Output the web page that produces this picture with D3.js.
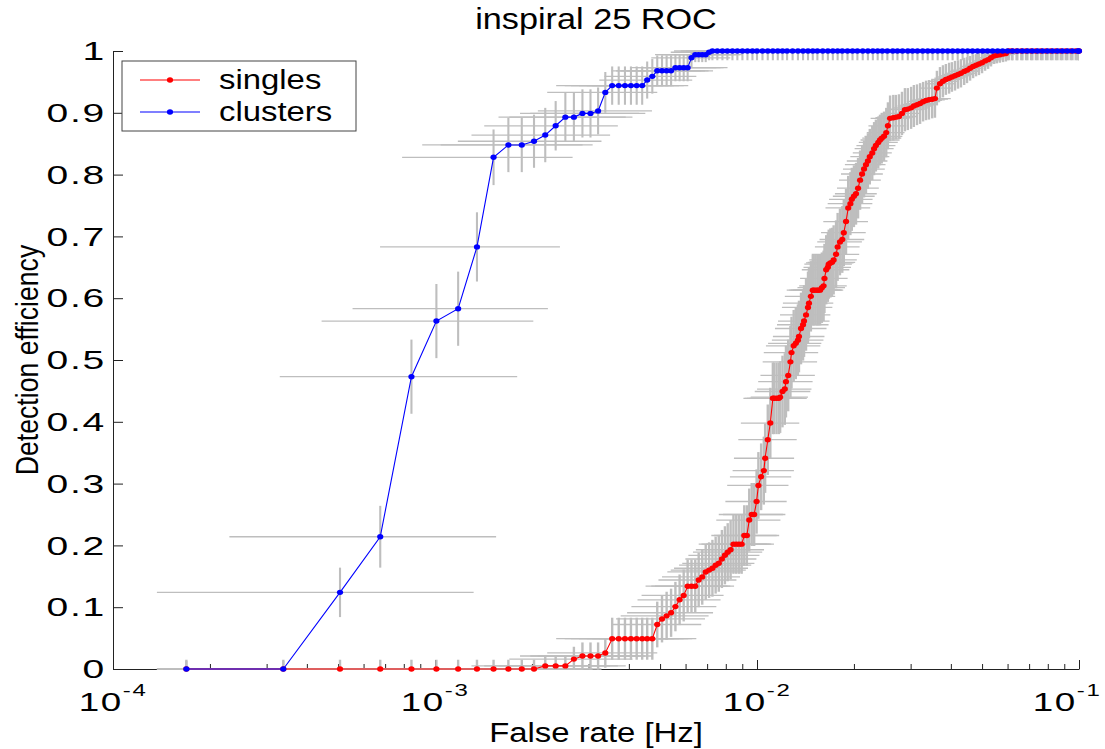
<!DOCTYPE html>
<html>
<head>
<meta charset="utf-8">
<script src="https://cdn.jsdelivr.net/npm/d3@7"></script>
<style>
  body { margin: 0; background: #fff; }
  text { font-family: "Liberation Sans", Arial, sans-serif; fill: #000; }
</style>
</head>
<body>
<div id="chart"></div>
<script>
// ---- data ----
// singles: false rate [Hz], efficiency, rate error factors (lower/upper), efficiency error (half width)
const singlesRate = [
  1.69e-4, 3.38e-4, 5.07e-4, 6.76e-4, 8.45e-4, 1.01e-3, 1.18e-3, 1.35e-3, 1.52e-3, 1.69e-3, 1.86e-3, 2.03e-3,
  2.20e-3, 2.37e-3, 2.54e-3, 2.70e-3, 2.87e-3, 3.04e-3, 3.21e-3, 3.38e-3,
  3.55e-3, 3.72e-3, 3.89e-3, 4.06e-3, 4.23e-3, 4.40e-3, 4.56e-3, 4.73e-3,
  4.90e-3, 5.07e-3, 5.24e-3, 5.41e-3, 5.58e-3, 5.75e-3, 5.92e-3, 6.09e-3,
  6.26e-3, 6.43e-3, 6.59e-3, 6.76e-3, 6.93e-3, 7.10e-3, 7.27e-3, 7.44e-3,
  7.61e-3, 7.78e-3, 7.95e-3, 8.11e-3, 8.28e-3, 8.45e-3, 8.62e-3, 8.79e-3,
  8.96e-3, 9.13e-3, 9.30e-3, 9.46e-3, 9.63e-3, 9.80e-3, 9.97e-3, 1.01e-2,
  1.03e-2, 1.05e-2, 1.06e-2, 1.08e-2, 1.10e-2, 1.12e-2, 1.13e-2, 1.15e-2,
  1.17e-2, 1.18e-2, 1.20e-2, 1.22e-2, 1.23e-2, 1.25e-2, 1.27e-2, 1.28e-2,
  1.30e-2, 1.32e-2, 1.34e-2, 1.35e-2, 1.37e-2, 1.39e-2, 1.40e-2, 1.42e-2,
  1.44e-2, 1.45e-2, 1.47e-2, 1.49e-2, 1.50e-2, 1.52e-2, 1.54e-2, 1.55e-2,
  1.57e-2, 1.59e-2, 1.61e-2, 1.62e-2, 1.64e-2, 1.66e-2, 1.67e-2, 1.69e-2,
  1.71e-2, 1.73e-2, 1.76e-2, 1.78e-2, 1.81e-2, 1.84e-2, 1.86e-2, 1.89e-2,
  1.92e-2, 1.95e-2, 1.97e-2, 2.00e-2, 2.03e-2, 2.06e-2, 2.09e-2, 2.12e-2,
  2.15e-2, 2.18e-2, 2.21e-2, 2.24e-2, 2.28e-2, 2.31e-2, 2.34e-2, 2.38e-2,
  2.41e-2, 2.44e-2, 2.48e-2, 2.52e-2, 2.55e-2, 2.59e-2, 2.65e-2, 2.70e-2,
  2.76e-2, 2.82e-2, 2.88e-2, 2.94e-2, 3.01e-2, 3.07e-2, 3.14e-2, 3.21e-2,
  3.28e-2, 3.35e-2, 3.42e-2, 3.50e-2, 3.57e-2, 3.62e-2, 3.70e-2, 3.78e-2,
  3.86e-2, 3.95e-2, 4.03e-2, 4.12e-2, 4.21e-2, 4.30e-2, 4.40e-2, 4.49e-2,
  4.59e-2, 4.69e-2, 4.79e-2, 4.89e-2, 5.00e-2, 5.11e-2, 5.22e-2, 5.33e-2,
  5.45e-2, 5.56e-2, 5.68e-2, 5.81e-2, 5.93e-2,
  6.05e-2, 6.19e-2, 6.40e-2, 6.62e-2, 6.85e-2, 7.10e-2, 7.35e-2, 7.62e-2,
  7.90e-2, 8.18e-2, 8.48e-2, 8.78e-2, 9.10e-2, 9.43e-2, 9.77e-2, 1.00e-1
]
const singlesEff = [
  0, 0, 0, 0, 0, 0, 0, 0, 0, 0, 0, 0,
  .005, .005, .005, .016, .021, .021, .021, .026,
  .049, .049, .049, .049, .049, .049, .049, .049,
  .072, .081, .086, .091, .101, .112, .119, .134,
  .134, .134, .144, .149, .157, .160, .163, .168,
  .171, .178, .184, .189, .193, .202, .202, .202,
  .202, .216, .216, .241, .250, .250, .271, .297,
  .311, .321, .341, .371, .398, .438, .438, .438,
  .438, .440, .449, .453, .465, .475, .497, .512,
  .523, .527, .532, .538, .551, .557, .563, .573,
  .585, .592, .603, .613, .613, .613, .613, .613,
  .613, .617, .620, .632, .646, .650, .655, .657,
  .658, .662, .671, .683, .691, .695, .706, .724,
  .746, .753, .760, .765, .769, .778, .791, .801,
  .809, .816, .822, .829, .835, .842, .847, .852,
  .856, .859, .862, .868, .879, .891, .892, .893,
  .894, .899, .905, .906, .908, .911, .913, .915,
  .918, .920, .921, .922, .923, .940, .947, .951,
  .954, .956, .958, .960, .962, .964, .967, .969,
  .972, .975, .977, .979, .981, .984, .986, .989,
  .992, .993, .994, .995, .996,
  1, 1, 1, 1, 1, 1, 1, 1,
  1, 1, 1, 1, 1, 1, 1, 1
]
const singlesRateLo = [
  .81, .41, .27, .34, .39, .44, .47, .50, .52, .54, .56, .58,
  .59, .60, .62, .63, .64, .65, .65, .66,
  .67, .68, .68, .69, .70, .70, .71, .71,
  .72, .72, .72, .73, .73, .74, .74, .74,
  .75, .75, .75, .75, .76, .76, .76, .77,
  .77, .77, .77, .78, .78, .78, .78, .79,
  .79, .79, .79, .79, .79, .80, .80, .80,
  .80, .80, .80, .81, .81, .81, .81, .81,
  .81, .81, .82, .82, .82, .82, .82, .82,
  .82, .82, .83, .83, .83, .83, .83, .83,
  .83, .83, .83, .83, .84, .84, .84, .84,
  .84, .84, .84, .84, .84, .84, .84, .84,
  .84, .84, .84, .85, .85, .85, .85, .85,
  .85, .85, .85, .86, .86, .86, .86, .86,
  .86, .86, .86, .87, .87, .87, .87, .87,
  .87, .87, .87, .87, .87, .87, .88, .88,
  .88, .88, .88, .88, .88, .89, .89, .89,
  .89, .89, .89, .89, .89, .89, .90, .90,
  .90, .90, .90, .90, .90, .90, .90, .90,
  .91, .91, .91, .91, .91, .91, .91, .91,
  .91, .91, .91, .92, .92,
  .92, .92, .92, .92, .92, .92, .92, .93,
  .93, .93, .93, .93, .93, .93, .93, .93
]
const singlesRateHi = [
  4.74, 3.15, 2.60, 2.29, 2.13, 2.00, 1.90, 1.81, 1.76, 1.70, 1.66, 1.62,
  1.59, 1.56, 1.54, 1.52, 1.50, 1.48, 1.47, 1.45,
  1.44, 1.43, 1.42, 1.41, 1.40, 1.39, 1.38, 1.37,
  1.37, 1.36, 1.35, 1.35, 1.34, 1.34, 1.33, 1.33,
  1.32, 1.32, 1.31, 1.31, 1.30, 1.30, 1.29, 1.29,
  1.29, 1.28, 1.28, 1.28, 1.27, 1.27, 1.27, 1.26,
  1.26, 1.26, 1.26, 1.25, 1.25, 1.25, 1.24, 1.24,
  1.24, 1.24, 1.23, 1.23, 1.23, 1.23, 1.22, 1.22,
  1.22, 1.22, 1.22, 1.21, 1.21, 1.21, 1.21, 1.21,
  1.21, 1.20, 1.20, 1.20, 1.20, 1.20, 1.20, 1.19,
  1.19, 1.19, 1.19, 1.19, 1.19, 1.19, 1.19, 1.18,
  1.18, 1.18, 1.18, 1.18, 1.18, 1.18, 1.18, 1.18,
  1.18, 1.18, 1.18, 1.17, 1.17, 1.17, 1.17, 1.17,
  1.17, 1.17, 1.16, 1.16, 1.16, 1.16, 1.16, 1.16,
  1.16, 1.15, 1.15, 1.15, 1.15, 1.15, 1.15, 1.15,
  1.15, 1.15, 1.14, 1.14, 1.14, 1.14, 1.14, 1.14,
  1.14, 1.14, 1.13, 1.13, 1.13, 1.13, 1.13, 1.13,
  1.13, 1.12, 1.12, 1.12, 1.12, 1.12, 1.11, 1.11,
  1.11, 1.11, 1.11, 1.11, 1.11, 1.11, 1.11, 1.10,
  1.10, 1.10, 1.10, 1.10, 1.10, 1.10, 1.10, 1.10,
  1.10, 1.09, 1.09, 1.09, 1.09,
  1.09, 1.09, 1.09, 1.09, 1.08, 1.08, 1.08, 1.08,
  1.08, 1.08, 1.08, 1.07, 1.07, 1.07, 1.07, 1.07
]
const singlesEffErr = [
  .015, .015, .015, .015, .015, .015, .015, .015, .015, .015, .015, .015,
  .015, .015, .015, .020, .022, .022, .022, .024,
  .034, .034, .034, .034, .034, .034, .034, .034,
  .037, .038, .039, .039, .040, .041, .042, .043,
  .043, .043, .044, .045, .045, .045, .046, .046,
  .046, .047, .047, .047, .048, .048, .048, .048,
  .048, .049, .049, .051, .051, .051, .052, .054,
  .054, .055, .056, .057, .057, .058, .058, .058,
  .058, .058, .058, .058, .058, .058, .058, .058,
  .058, .058, .058, .058, .058, .058, .058, .058,
  .058, .057, .057, .057, .057, .057, .057, .057,
  .057, .057, .057, .056, .056, .056, .056, .056,
  .056, .056, .055, .055, .054, .054, .054, .053,
  .052, .051, .051, .050, .050, .049, .048, .047,
  .046, .046, .045, .045, .044, .043, .042, .042,
  .041, .041, .040, .040, .038, .037, .037, .036,
  .036, .035, .035, .034, .034, .034, .033, .033,
  .032, .032, .032, .031, .031, .028, .027, .026,
  .025, .025, .024, .024, .023, .023, .022, .021,
  .020, .019, .018, .018, .017, .016, .015, .014,
  .013, .013, .013, .013, .013,
  .015, .015, .015, .015, .015, .015, .015, .015,
  .015, .015, .015, .015, .015, .015, .015, .015
]

// clusters
const clustersRate = [
  1.69e-4, 3.38e-4, 5.07e-4, 6.76e-4, 8.45e-4, 1.01e-3, 1.18e-3,
  1.35e-3, 1.52e-3, 1.69e-3, 1.86e-3, 2.03e-3, 2.20e-3, 2.37e-3,
  2.54e-3, 2.70e-3, 2.87e-3, 3.04e-3, 3.21e-3, 3.38e-3, 3.55e-3,
  3.72e-3, 3.89e-3, 4.06e-3, 4.23e-3, 4.40e-3, 4.56e-3, 4.73e-3,
  4.90e-3, 5.07e-3, 5.24e-3, 5.41e-3, 5.58e-3, 5.75e-3, 5.92e-3,
  6.09e-3, 6.26e-3, 6.43e-3, 6.59e-3, 6.76e-3, 6.93e-3, 7.10e-3,
  7.27e-3, 7.53e-3, 7.81e-3, 8.09e-3, 8.39e-3, 8.69e-3, 9.01e-3, 9.34e-3, 9.68e-3, 1.00e-2,
  1.04e-2, 1.08e-2, 1.12e-2, 1.16e-2, 1.20e-2, 1.24e-2, 1.29e-2, 1.34e-2, 1.39e-2, 1.44e-2,
  1.49e-2, 1.54e-2, 1.60e-2, 1.66e-2, 1.72e-2, 1.78e-2, 1.84e-2, 1.91e-2, 1.98e-2, 2.05e-2,
  2.13e-2, 2.21e-2, 2.29e-2, 2.37e-2, 2.45e-2, 2.54e-2, 2.64e-2, 2.73e-2, 2.83e-2, 2.94e-2,
  3.04e-2, 3.15e-2, 3.27e-2, 3.39e-2, 3.51e-2, 3.64e-2, 3.77e-2, 3.91e-2, 4.05e-2, 4.20e-2,
  4.35e-2, 4.51e-2, 4.67e-2, 4.84e-2, 5.02e-2, 5.20e-2, 5.39e-2, 5.59e-2, 5.79e-2, 6.00e-2,
  6.22e-2, 6.44e-2, 6.68e-2, 6.92e-2, 7.17e-2, 7.44e-2, 7.71e-2, 7.99e-2, 8.28e-2, 8.58e-2,
  8.89e-2, 9.21e-2, 9.55e-2, 9.90e-2, 1.00e-1
]
const clustersEff = [
  0, 0, .124, .214, .473, .563, .583,
  .683, .828, .848, .848, .854, .864, .879,
  .893, .893, .899, .899, .903, .933, .944,
  .944, .944, .944, .944, .944, .953, .959,
  .968, .968, .968, .968, .973, .973, .973,
  .973, .989, .994, .994, .994, .994, .998,
  1, 1, 1, 1, 1, 1, 1, 1, 1, 1,
  1, 1, 1, 1, 1, 1, 1, 1, 1, 1,
  1, 1, 1, 1, 1, 1, 1, 1, 1, 1,
  1, 1, 1, 1, 1, 1, 1, 1, 1, 1,
  1, 1, 1, 1, 1, 1, 1, 1, 1, 1,
  1, 1, 1, 1, 1, 1, 1, 1, 1, 1,
  1, 1, 1, 1, 1, 1, 1, 1, 1, 1,
  1, 1, 1, 1, 1
]
const clustersRateLo = [
  .81, .41, .27, .34, .39, .44, .47,
  .50, .52, .54, .56, .58, .59, .60,
  .62, .63, .64, .65, .65, .66, .67,
  .68, .68, .69, .70, .70, .71, .71,
  .72, .72, .72, .73, .73, .74, .74,
  .74, .75, .75, .75, .75, .76, .76,
  .76, .77, .77, .77, .78, .78, .78, .79, .79, .80,
  .80, .80, .81, .81, .81, .82, .82, .82, .83, .83,
  .83, .84, .84, .84, .85, .85, .85, .85, .86, .86,
  .86, .86, .87, .87, .87, .87, .87, .88, .88, .88,
  .88, .88, .89, .89, .89, .89, .90, .90, .90, .90,
  .90, .90, .90, .91, .91, .91, .91, .91, .91, .92,
  .92, .92, .92, .92, .92, .92, .93, .93, .93, .93,
  .93, .93, .93, .93, .93
]
const clustersRateHi = [
  4.74, 3.15, 2.60, 2.29, 2.13, 2.00, 1.90,
  1.81, 1.76, 1.70, 1.66, 1.62, 1.59, 1.56,
  1.54, 1.52, 1.50, 1.48, 1.47, 1.45, 1.44,
  1.43, 1.42, 1.41, 1.40, 1.39, 1.38, 1.37,
  1.37, 1.36, 1.35, 1.35, 1.34, 1.34, 1.33,
  1.33, 1.32, 1.32, 1.31, 1.31, 1.30, 1.30,
  1.29, 1.29, 1.28, 1.28, 1.28, 1.27, 1.27, 1.26, 1.25, 1.24,
  1.24, 1.24, 1.23, 1.22, 1.22, 1.22, 1.21, 1.21, 1.20, 1.20,
  1.19, 1.19, 1.18, 1.18, 1.18, 1.17, 1.17, 1.17, 1.16, 1.16,
  1.16, 1.15, 1.15, 1.15, 1.15, 1.14, 1.14, 1.14, 1.14, 1.13,
  1.13, 1.13, 1.13, 1.12, 1.12, 1.12, 1.12, 1.12, 1.11, 1.11,
  1.11, 1.11, 1.11, 1.10, 1.10, 1.10, 1.10, 1.10, 1.09, 1.09,
  1.09, 1.09, 1.09, 1.09, 1.08, 1.08, 1.08, 1.08, 1.08, 1.08,
  1.07, 1.07, 1.07, 1.07, 1.07
]
const clustersEffErr = [
  .013, .013, .040, .050, .060, .060, .060,
  .056, .045, .044, .044, .043, .044, .040,
  .040, .040, .039, .039, .038, .033, .031,
  .031, .031, .031, .031, .031, .030, .028,
  .025, .025, .025, .025, .022, .022, .022,
  .022, .015, .012, .012, .012, .012, .013,
  .015, .015, .015, .015, .015, .015, .015, .015, .015, .015,
  .015, .015, .015, .015, .015, .015, .015, .015, .015, .015,
  .015, .015, .015, .015, .015, .015, .015, .015, .015, .015,
  .015, .015, .015, .015, .015, .015, .015, .015, .015, .015,
  .015, .015, .015, .015, .015, .015, .015, .015, .015, .015,
  .015, .015, .015, .015, .015, .015, .015, .015, .015, .015,
  .015, .015, .015, .015, .015, .015, .015, .015, .015, .015,
  .015, .015, .015, .015, .015
]

const xMajorTicks = [1e-4, 1e-3, 1e-2, 1e-1]
const xTickExponents = ["-4", "-3", "-2", "-1"]
const xMinorTicks = [2e-4, 3e-4, 4e-4, 5e-4, 6e-4, 7e-4, 8e-4, 9e-4,
  2e-3, 3e-3, 4e-3, 5e-3, 6e-3, 7e-3, 8e-3, 9e-3,
  2e-2, 3e-2, 4e-2, 5e-2, 6e-2, 7e-2, 8e-2, 9e-2]
const yTicks = [0, 0.1, 0.2, 0.3, 0.4, 0.5, 0.6, 0.7, 0.8, 0.9, 1]
const yTickLabels = ["0", "0.1", "0.2", "0.3", "0.4", "0.5", "0.6", "0.7", "0.8", "0.9", "1"]

// ---- layout ----
const width = 1105
const height = 749
const margin = { top: 51, right: 26, bottom: 80, left: 113 }
const sx = 1.37, sy = 1.15 // the original figure's text is stretched wider than tall
const gray = "#bebebe"

const xScale = d3.scaleLog().domain([1e-4, 1e-1]).range([margin.left, width - margin.right])
const yScale = d3.scaleLinear().domain([0, 1]).range([height - margin.bottom, margin.top])

const svg = d3.select("#chart").append("svg")
  .attr("width", width)
  .attr("height", height)
  .style("display", "block")

svg.append("defs").append("clipPath").attr("id", "plotclip")
  .append("rect")
  .attr("x", margin.left)
  .attr("y", margin.top - 1)
  .attr("width", width - margin.right - margin.left)
  .attr("height", height - margin.bottom - margin.top + 2)

// axes (ticks point inward, no box)
const xAxis = d3.axisBottom(xScale).tickValues(xMajorTicks).tickSize(-9).tickSizeOuter(0).tickFormat("")
const xAxisMinor = d3.axisBottom(xScale).tickValues(xMinorTicks).tickSize(-5).tickSizeOuter(0).tickFormat("")
const yAxis = d3.axisLeft(yScale).tickValues(yTicks).tickSize(-10).tickSizeOuter(0).tickFormat("")

svg.append("g")
  .attr("class", "x-axis")
  .attr("transform", `translate(0,${height - margin.bottom})`)
  .call(xAxis)
svg.append("g")
  .attr("class", "x-axis-minor")
  .attr("transform", `translate(0,${height - margin.bottom})`)
  .call(xAxisMinor)
  .call(g => g.select(".domain").remove())
svg.append("g")
  .attr("class", "y-axis")
  .attr("transform", `translate(${margin.left},0)`)
  .call(yAxis)
svg.selectAll(".domain").attr("stroke", "#222")
svg.selectAll(".tick line").attr("stroke", "#222")

// series built from the arrays above
const series = [
  { name: "singles", color: "#ff0000", barWidth: 2.4, rate: singlesRate, eff: singlesEff, lo: singlesRateLo, hi: singlesRateHi, err: singlesEffErr },
  { name: "clusters", color: "#0000ff", barWidth: 2.1, rate: clustersRate, eff: clustersEff, lo: clustersRateLo, hi: clustersRateHi, err: clustersEffErr }
]
series.forEach(s => {
  s.points = s.rate.map((r, i) => ({ rate: r, eff: s.eff[i], lo: r * s.lo[i], hi: r * s.hi[i], err: s.err[i] }))
})

// gray error bars, clipped to the axes
const bars = svg.append("g").attr("clip-path", "url(#plotclip)")
series.forEach(s => {
  bars.append("g")
    .selectAll("line")
    .data(s.points)
    .join("line")
    .attr("x1", d => xScale(d.lo))
    .attr("x2", d => xScale(d.hi))
    .attr("y1", d => yScale(d.eff))
    .attr("y2", d => yScale(d.eff))
    .attr("stroke", gray)
    .attr("stroke-width", 1.3)
  bars.append("g")
    .selectAll("line")
    .data(s.points)
    .join("line")
    .attr("x1", d => xScale(d.rate))
    .attr("x2", d => xScale(d.rate))
    .attr("y1", d => yScale(d.eff - d.err))
    .attr("y2", d => yScale(d.eff + d.err))
    .attr("stroke", gray)
    .attr("stroke-width", s.barWidth)
})

// curves + dot markers
const line = d3.line().x(d => xScale(d.rate)).y(d => yScale(d.eff))
series.forEach(s => {
  svg.append("path")
    .datum(s.points)
    .attr("d", line)
    .attr("fill", "none")
    .attr("stroke", s.color)
    .attr("stroke-width", 1.1)
  svg.append("g")
    .selectAll("ellipse")
    .data(s.points)
    .join("ellipse")
    .attr("cx", d => xScale(d.rate))
    .attr("cy", d => yScale(d.eff))
    .attr("rx", 3.1)
    .attr("ry", 2.7)
    .attr("fill", s.color)
})

// tick labels (the original draws them with wide glyphs)
svg.append("g")
  .selectAll("text")
  .data(yTicks)
  .join("text")
  .attr("transform", d => `translate(${margin.left - 7},${yScale(d)}) scale(1.7,1.12)`)
  .attr("text-anchor", "end")
  .attr("dy", "0.36em")
  .style("font-size", "23px")
  .style("letter-spacing", "1px")
  .text((d, i) => yTickLabels[i])

const xLabels = svg.append("g")
  .selectAll("text")
  .data(xMajorTicks)
  .join("text")
  .attr("transform", (d, i) => `translate(${xScale(d) - (i === xMajorTicks.length - 1 ? 12 : 0)},${height - margin.bottom + 42}) scale(1.6,${sy})`)
  .attr("text-anchor", "middle")
  .style("font-size", "23px")
  .style("letter-spacing", "1px")
xLabels.append("tspan").text("10")
xLabels.append("tspan")
  .attr("dy", -13)
  .style("font-size", "15px")
  .text((d, i) => xTickExponents[i])

// title and axis labels
svg.append("text")
  .attr("transform", `translate(${(margin.left + width - margin.right) / 2},29) scale(${sx},${sy})`)
  .attr("text-anchor", "middle")
  .style("font-size", "25px")
  .text("inspiral 25 ROC")

svg.append("text")
  .attr("transform", `translate(${(margin.left + width - margin.right) / 2},742) scale(${sx},${sy})`)
  .attr("text-anchor", "middle")
  .style("font-size", "24px")
  .text("False rate [Hz]")

svg.append("text")
  .attr("transform", `translate(38,${(margin.top + height - margin.bottom) / 2}) rotate(-90) scale(1.11,1.3)`)
  .attr("text-anchor", "middle")
  .style("font-size", "24px")
  .text("Detection efficiency")

// legend
const legend = svg.append("g")
legend.append("rect")
  .attr("x", 122).attr("y", 61)
  .attr("width", 234).attr("height", 70)
  .attr("fill", "#fff")
  .attr("stroke", "#444")
  .attr("stroke-width", 1)
series.forEach((s, i) => {
  const ly = 80 + i * 32
  legend.append("line")
    .attr("x1", 140).attr("x2", 200)
    .attr("y1", ly).attr("y2", ly)
    .attr("stroke", s.color)
    .attr("stroke-width", 1.1)
  legend.append("ellipse")
    .attr("cx", 170).attr("cy", ly)
    .attr("rx", 3.1).attr("ry", 2.7)
    .attr("fill", s.color)
  legend.append("text")
    .attr("transform", `translate(219,${ly + 9}) scale(${sx},${sy})`)
    .style("font-size", "24px")
    .text(s.name)
})
</script>
</body>
</html>
